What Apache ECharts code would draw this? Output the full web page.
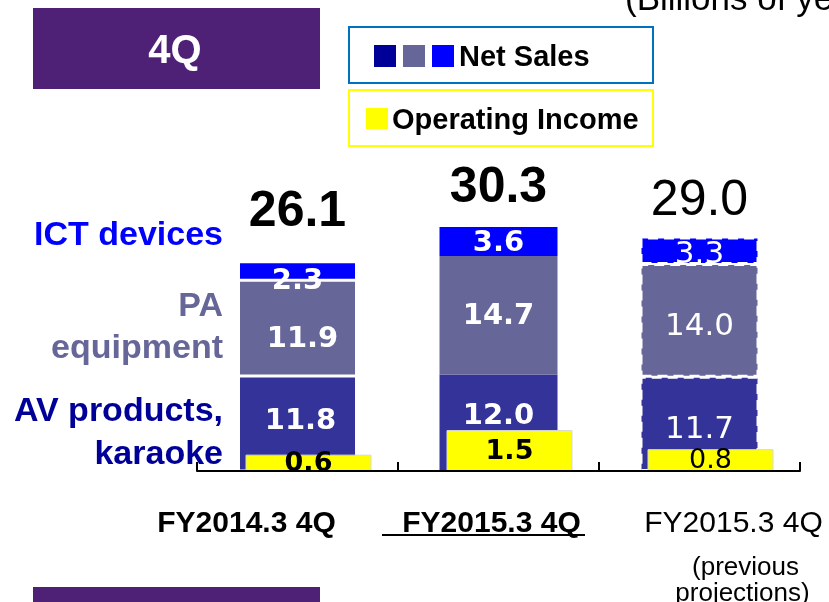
<!DOCTYPE html>
<html>
<head>
<meta charset="utf-8">
<title>4Q Net Sales / Operating Income</title>
<script src="https://cdn.jsdelivr.net/npm/echarts@6/dist/echarts.min.js"></script>
<style>
  html, body { margin: 0; padding: 0; background: #fff; }
  #main { width: 829px; height: 602px; }
</style>
</head>
<body>
<div id="main"></div>
<script>
// billions of yen
const categories = ['FY2014.3 4Q', 'FY2015.3 4Q', 'FY2015.3 4Q'];
const projectionNote = ['(previous', 'projections)'];
const avKaraoke = [11.8, 12.0, 11.7];
const paEquipment = [11.9, 14.7, 14.0];
const ictDevices = [2.3, 3.6, 3.3];
const netSalesTotal = [26.1, 30.3, 29.0];
const operatingIncome = [0.6, 1.5, 0.8];

const chart = echarts.init(document.getElementById('main'));

const isProjection = i => i === 2;
const fmt = v => Number(v).toFixed(1);
const sans = 'Liberation Sans';
const numFont = 'DejaVu Sans';

// one stacked segment series, 3rd column (projection) gets dashed edges and plain text
function stackData(values, offsets) {
  return values.map((v, i) => ({
    value: v,
    itemStyle: isProjection(i)
      ? { borderColor: '#fff', borderWidth: 2, borderType: [10, 6] }
      : { borderColor: '#fff', borderWidth: i === 0 ? 1.5 : 0 },
    label: {
      fontWeight: isProjection(i) ? 'normal' : 'bold',
      fontSize: isProjection(i) ? 31 : 29,
      offset: offsets[i]
    }
  }));
}

const segLabel = {
  show: true,
  position: 'inside',
  color: '#fff',
  fontFamily: numFont,
  formatter: p => fmt(p.value)
};

function catLabel(value, index) {
  if (index === 0) return '{a|' + value + '}';
  if (index === 1) return '{b|' + value + '}';
  return '{c|' + value + '}\n{gap| }\n{p|' + projectionNote[0] + '}\n{q|' + projectionNote[1] + '}';
}

const bold30 = { fontFamily: sans, fontSize: 30, fontWeight: 'bold', color: '#000', lineHeight: 34 };

function sideText(text, y, color) {
  return {
    type: 'text', x: 223, y: y,
    style: { text: text, fill: color, font: 'bold 34px "Liberation Sans"', textAlign: 'right', textVerticalAlign: 'middle' }
  };
}

chart.setOption({
  backgroundColor: '#fff',
  animation: false,
  grid: [
    { left: 197, right: 29, top: 149, bottom: 131, outerBoundsMode: 'none' },
    { left: 208, right: 18, top: 149, bottom: 131, outerBoundsMode: 'none' }
  ],
  xAxis: [
    {
      gridIndex: 0,
      type: 'category',
      data: categories,
      z: 10,
      axisLine: { lineStyle: { color: '#000', width: 2 } },
      axisTick: { show: true, inside: true, length: 9, lineStyle: { color: '#000', width: 2 } },
      axisLabel: {
        interval: 0,
        margin: 36,
        formatter: catLabel,
        rich: {
          a: Object.assign({}, bold30, { padding: [0, 102, 0, 0] }),
          b: Object.assign({}, bold30, { padding: [0, 14, 0, 0] }),
          c: Object.assign({}, bold30, { fontWeight: 'normal', padding: [0, 0, 0, 68] }),
          gap: { fontSize: 2, lineHeight: 14 },
          p: { fontFamily: sans, fontSize: 26, lineHeight: 26, color: '#000', padding: [0, 0, 0, 92] },
          q: { fontFamily: sans, fontSize: 26, lineHeight: 26, color: '#000', padding: [0, 0, 0, 86] }
        }
      }
    },
    { gridIndex: 1, type: 'category', data: categories, show: false }
  ],
  yAxis: [
    { gridIndex: 0, type: 'value', min: 0, max: 40, show: false },
    { gridIndex: 1, type: 'value', min: 0, max: 11.8, show: false }
  ],
  series: [
    {
      name: 'AV products, karaoke',
      type: 'bar',
      stack: 'sales',
      barWidth: 118,
      itemStyle: { color: '#333399' },
      label: segLabel,
      data: stackData(avKaraoke, [[3, -2], [0, -6], [0, 6]])
    },
    {
      name: 'PA equipment',
      type: 'bar',
      stack: 'sales',
      barWidth: 118,
      itemStyle: { color: '#666699' },
      label: segLabel,
      data: stackData(paEquipment, [[5, 11], [0, 1], [0, 6]])
    },
    {
      name: 'ICT devices',
      type: 'bar',
      stack: 'sales',
      barWidth: 118,
      itemStyle: { color: '#0000FF' },
      label: segLabel,
      data: stackData(ictDevices, [[0, 11], [0, 2], [0, 4]])
    },
    {
      // zero-height cap on the stack, carries the net sales total
      name: 'Net Sales',
      type: 'bar',
      stack: 'sales',
      barWidth: 118,
      itemStyle: { color: 'transparent' },
      label: {
        show: true,
        position: 'top',
        distance: 15,
        color: '#000',
        fontFamily: sans,
        fontSize: 50,
        formatter: p => fmt(netSalesTotal[p.dataIndex])
      },
      data: netSalesTotal.map((t, i) => ({
        value: 0,
        label: {
          fontWeight: isProjection(i) ? 'normal' : 'bold',
          offset: [[0, -9], [0, 1], [0, 4]][i]
        }
      }))
    },
    {
      name: 'Operating Income',
      type: 'bar',
      xAxisIndex: 1,
      yAxisIndex: 1,
      barWidth: 126,
      itemStyle: { color: '#FFFF00', borderColor: '#d8d8d8', borderWidth: 1 },
      label: {
        show: true,
        position: 'inside',
        color: '#000',
        fontFamily: numFont,
        fontSize: 27,
        offset: [0, 1],
        formatter: p => fmt(p.value)
      },
      data: operatingIncome.map((v, i) => ({
        value: v,
        label: { fontWeight: isProjection(i) ? 'normal' : 'bold' }
      }))
    }
  ],
  graphic: [
    { type: 'rect', shape: { x: 33, y: 8, width: 287, height: 81 }, style: { fill: '#4E2076' } },
    { type: 'text', x: 175, y: 52, style: { text: '4Q', fill: '#fff', font: 'bold 40px "Liberation Sans"', textAlign: 'center', textVerticalAlign: 'middle' } },
    { type: 'rect', shape: { x: 33, y: 587, width: 287, height: 20 }, style: { fill: '#4E2076' } },
    { type: 'text', x: 625, y: 0, style: { text: '(Billions of yen)', fill: '#000', font: '35px "Liberation Sans"', textVerticalAlign: 'middle' } },

    // legend boxes
    { type: 'rect', shape: { x: 349, y: 27, width: 304, height: 56 }, style: { fill: '#fff', stroke: '#0070C0', lineWidth: 2 } },
    { type: 'rect', shape: { x: 374, y: 45, width: 22, height: 22 }, style: { fill: '#000099' } },
    { type: 'rect', shape: { x: 403, y: 45, width: 22, height: 22 }, style: { fill: '#666699' } },
    { type: 'rect', shape: { x: 432, y: 45, width: 22, height: 22 }, style: { fill: '#0000FF' } },
    { type: 'text', x: 459, y: 58, style: { text: 'Net Sales', fill: '#000', font: 'bold 29px "Liberation Sans"', textVerticalAlign: 'middle' } },
    { type: 'rect', shape: { x: 349, y: 90, width: 304, height: 56 }, style: { fill: '#fff', stroke: '#FFFF00', lineWidth: 2 } },
    { type: 'rect', shape: { x: 366, y: 108, width: 22, height: 21 }, style: { fill: '#FFFF00' } },
    { type: 'text', x: 392, y: 121, style: { text: 'Operating Income', fill: '#000', font: 'bold 29px "Liberation Sans"', textVerticalAlign: 'middle' } },

    // segment names on the left
    sideText('ICT devices', 236, '#0000FF'),
    sideText('PA', 307, '#666699'),
    sideText('equipment', 349, '#666699'),
    sideText('AV products,', 412, '#000099'),
    sideText('karaoke', 455, '#000099'),

    // underline under the current-year category
    { type: 'line', shape: { x1: 382, y1: 535, x2: 585, y2: 535 }, style: { stroke: '#000', lineWidth: 2 } }
  ]
});
</script>
</body>
</html>
